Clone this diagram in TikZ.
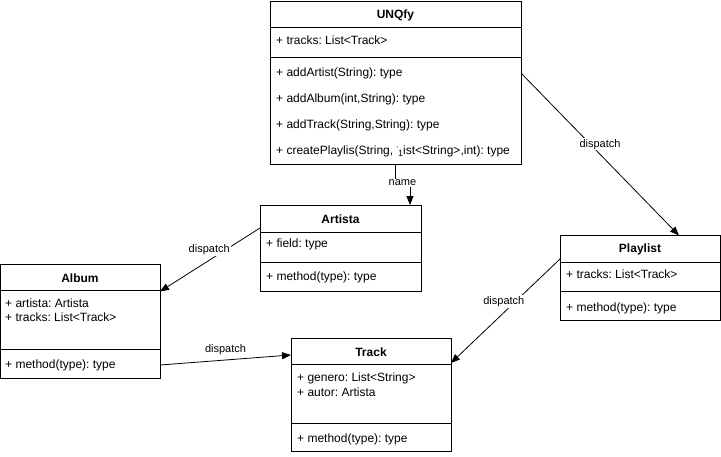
\documentclass[tikz,border=0pt]{standalone}
\usepackage{fontspec}
\setmainfont{Liberation Sans}
\usetikzlibrary{arrows.meta}
\frenchspacing

\tikzset{
  cls/.style={draw, line width=1pt, anchor=north west, inner sep=0pt, outer sep=0pt, fill=white},
  divider/.style={line width=1pt},
  title/.style={font=\fontsize{12}{14}\selectfont\bfseries, inner sep=0pt},
  member/.style={font=\fontsize{12}{14}\selectfont, anchor=west, inner sep=0pt, align=left},
  conn/.style={line width=0.8pt, -{Triangle[length=9pt,width=7pt]}},
  elabel/.style={font=\fontsize{11}{13}\selectfont, fill=white, inner sep=1pt},
}

\begin{document}
\begin{tikzpicture}[x=1pt,y=-1pt]
\useasboundingbox (0,0) rectangle (721,456);

% ---------- UNQfy ----------
\node[cls, minimum width=251pt, minimum height=163pt] (unq) at (270,1) {};
\draw[divider] (270,27) -- (521,27);
\draw[divider] (270,57) -- (521,57);
\node[title] (unqT) at (395.5,15) {UNQfy};
\node[member] (unqA) at (276,40) {+ tracks: List<Track>};
\node[member] (unqM1) at (276,73) {+ addArtist(String): type};
\node[member] (unqM2) at (276,99) {+ addAlbum(int,String): type};
\node[member] (unqM3) at (276,125) {+ addTrack(String,String): type};
\node[member] (unqM4) at (276,151) {+ createPlaylis(String, \raisebox{3pt}{\fontsize{7}{7}\selectfont '}\raisebox{-2.5pt}{\fontsize{9}{9}\selectfont 1}ist<String>,int): type};

% ---------- Artista ----------
\node[cls, minimum width=161pt, minimum height=86pt] (art) at (260,205) {};
\draw[divider] (260,232) -- (421,232);
\draw[divider] (260,262) -- (421,262);
\node[title] (artT) at (340.5,219) {Artista};
\node[member] (artA) at (266,244) {+ field: type};
\node[member] (artM) at (266,277) {+ method(type): type};

% ---------- Album ----------
\node[cls, minimum width=160pt, minimum height=114pt] (alb) at (0,264.5) {};
\draw[divider] (0,290) -- (160,290);
\draw[divider] (0,349) -- (160,349);
\node[title] (albT) at (80,278) {Album};
\node[member] (albA1) at (5,303) {+ artista: Artista};
\node[member] (albA2) at (5,317) {+ tracks: List<Track>};
\node[member] (albM) at (5,365) {+ method(type): type};

% ---------- Playlist ----------
\node[cls, minimum width=160pt, minimum height=85pt] (pl) at (560,235.5) {};
\draw[divider] (560,262) -- (720,262);
\draw[divider] (560,291) -- (720,291);
\node[title] (plT) at (640,249) {Playlist};
\node[member] (plA) at (566,274) {+ tracks: List<Track>};
\node[member] (plM) at (566,308) {+ method(type): type};

% ---------- Track ----------
\node[cls, minimum width=160pt, minimum height=113pt] (trk) at (291,338) {};
\draw[divider] (291,364) -- (451,364);
\draw[divider] (291,423) -- (451,423);
\node[title] (trkT) at (371,352) {Track};
\node[member] (trkA1) at (297,378) {+ genero: List<String>};
\node[member] (trkA2) at (297,392) {+ autor: Artista};
\node[member] (trkM) at (297,439) {+ method(type): type};

% ---------- associations ----------
\draw[conn] ([xshift=-0.5pt]unq.south) -- ++(0,-19pt) -| ([xshift=-11pt]art.north east)
  node[pos=0.25, elabel] (lname) {name};

\draw[conn] ([yshift=-72pt]unq.north east) -- ([xshift=-41pt]pl.north east)
  node[pos=0.5, yshift=10pt, elabel] (l1) {dispatch};

\draw[conn] ([yshift=-23pt]art.north west) -- ([yshift=-27pt]alb.north east)
  node[pos=0.508, yshift=10.5pt, elabel] (l2) {dispatch};

\draw[conn] ([yshift=13.5pt]alb.south east) -- ([yshift=-17pt]trk.north west)
  node[pos=0.5, yshift=10pt, elabel] (l3) {dispatch};

\draw[conn] ([yshift=-23.5pt]pl.north west) -- ([yshift=-25pt]trk.north east)
  node[pos=0.515, yshift=11pt, elabel] (l4) {dispatch};
\end{tikzpicture}
\end{document}
